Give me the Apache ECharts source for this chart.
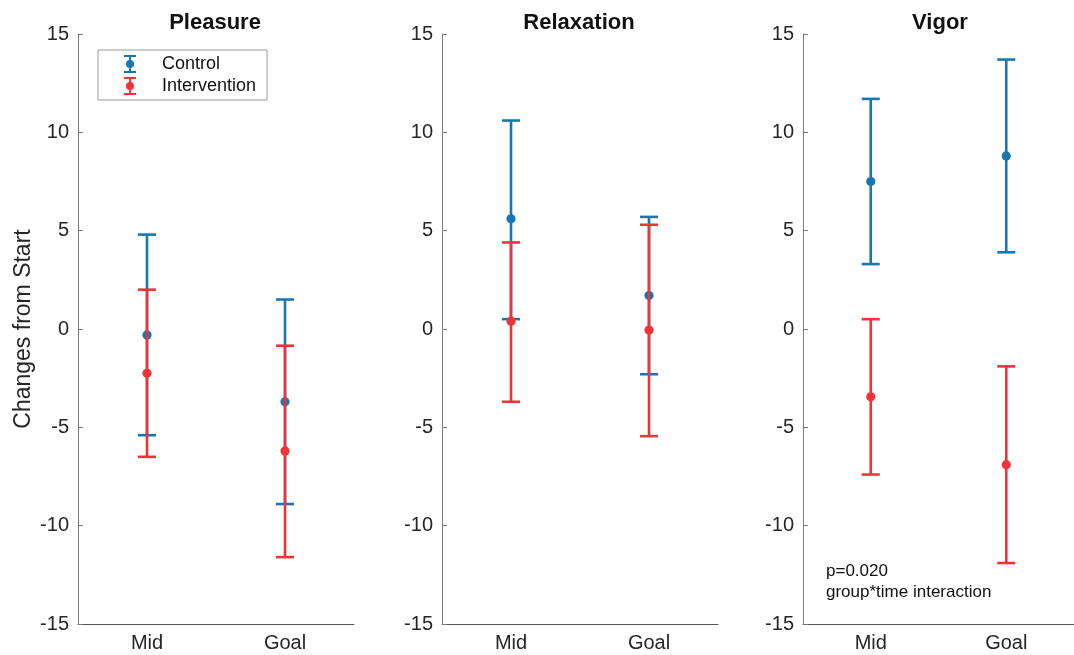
<!DOCTYPE html>
<html lang="en">
<head>
    <meta charset="UTF-8">
    <title>Changes from Start</title>
    <script src="https://cdn.jsdelivr.net/npm/echarts@6/dist/echarts.min.js"></script>
</head>
<body style="margin: 0">
<div id="main" style="width: 1074px;height: 655px"></div>
</body>

<script>
    // categories and panels
    const timePoints = ['Mid', 'Goal'];
    const panels = ['Pleasure', 'Relaxation', 'Vigor'];
    const yTicks = [-15, -10, -5, 0, 5, 10, 15];

    // mean, lower, upper per panel (Mid, Goal)
    const controlMean = [[-0.3, -3.7], [5.6, 1.7], [7.5, 8.8]];
    const controlLow = [[-5.4, -8.9], [0.5, -2.3], [3.3, 3.9]];
    const controlHigh = [[4.8, 1.5], [10.6, 5.7], [11.7, 13.7]];

    const interMean = [[-2.25, -6.2], [0.4, -0.05], [-3.45, -6.9]];
    const interLow = [[-6.5, -11.6], [-3.7, -5.45], [-7.4, -11.9]];
    const interHigh = [[2.0, -0.85], [4.4, 5.3], [0.5, -1.9]];

    const blue = '#1677B3';
    const red = '#EE3339';
    const font = 'Liberation Sans, Arial, sans-serif';

    const gridLeft = [78, 442, 803];
    const gridWidth = 276;

    let chart = echarts.init(document.getElementById('main'));

    function errorBar(params, api) {
        const x = api.value(0);
        const mid = api.coord([x, api.value(1)]);
        const lo = api.coord([x, api.value(2)]);
        const hi = api.coord([x, api.value(3)]);
        const color = api.visual('color');
        const half = 9;
        const lineStyle = {stroke: color, lineWidth: 2.6};
        return {
            type: 'group',
            children: [
                {type: 'line', shape: {x1: lo[0], y1: lo[1], x2: hi[0], y2: hi[1]}, style: lineStyle},
                {type: 'line', shape: {x1: lo[0] - half, y1: lo[1], x2: lo[0] + half, y2: lo[1]}, style: lineStyle},
                {type: 'line', shape: {x1: hi[0] - half, y1: hi[1], x2: hi[0] + half, y2: hi[1]}, style: lineStyle},
                {type: 'circle', shape: {cx: mid[0], cy: mid[1], r: 4.6}, style: {fill: color}}
            ]
        };
    }

    function buildData(mean, low, high) {
        return timePoints.map((t, i) => [i, mean[i], low[i], high[i]]);
    }

    const grids = [], xAxes = [], yAxes = [], titles = [], series = [];

    panels.forEach((name, p) => {
        grids.push({left: gridLeft[p], width: gridWidth, top: 34, bottom: 31});
        titles.push({
            text: name,
            left: gridLeft[p] + gridWidth / 2 - 6,
            top: 7,
            textAlign: 'center',
            textStyle: {fontFamily: font, fontSize: 22, fontWeight: 'bold', color: '#111'}
        });
        xAxes.push({
            type: 'category',
            gridIndex: p,
            data: timePoints,
            boundaryGap: true,
            axisLine: {onZero: false, lineStyle: {color: '#555', width: 1}},
            axisTick: {inside: true, length: 5, alignWithLabel: true, lineStyle: {color: '#555'}},
            axisLabel: {fontFamily: font, fontSize: 20, color: '#262626', margin: 9}
        });
        yAxes.push({
            type: 'value',
            gridIndex: p,
            min: -15,
            max: 15,
            interval: 5,
            name: p === 0 ? 'Changes from Start' : '',
            nameLocation: 'middle',
            nameGap: 43,
            nameTextStyle: {fontFamily: font, fontSize: 23, color: '#262626'},
            splitLine: {show: false},
            axisLine: {show: true, lineStyle: {color: '#7a7a7a', width: 1}},
            axisTick: {show: true, inside: true, length: 5, lineStyle: {color: '#7a7a7a'}},
            axisLabel: {
                fontFamily: font, fontSize: 20, color: '#262626', margin: 9,
                formatter: v => yTicks.includes(v) ? String(v) : ''
            }
        });
        series.push({
            name: 'Control',
            type: 'custom',
            xAxisIndex: p,
            yAxisIndex: p,
            itemStyle: {color: blue},
            renderItem: errorBar,
            encode: {x: 0, y: [1, 2, 3]},
            data: buildData(controlMean[p], controlLow[p], controlHigh[p]),
            z: 2
        });
        series.push({
            name: 'Intervention',
            type: 'custom',
            xAxisIndex: p,
            yAxisIndex: p,
            itemStyle: {color: red},
            renderItem: errorBar,
            encode: {x: 0, y: [1, 2, 3]},
            data: buildData(interMean[p], interLow[p], interHigh[p]),
            z: 3
        });
    });

    const legendIcon = 'path://M0,0H12V2H0Z M5,0H7V18H5Z M0,16H12V18H0Z M6,5A4,4 0 1 1 6,13A4,4 0 1 1 6,5Z';

    let option = {
        animation: false,
        backgroundColor: '#fff',
        title: titles,
        legend: {
            orient: 'vertical',
            left: 98,
            top: 50,
            data: [
                {name: 'Control', icon: legendIcon},
                {name: 'Intervention', icon: legendIcon}
            ],
            itemWidth: 12,
            itemHeight: 18,
            itemGap: 4,
            padding: [5, 11, 5, 26],
            borderColor: '#999',
            borderWidth: 1,
            textStyle: {fontFamily: font, fontSize: 18, color: '#111', padding: [0, 0, 0, 21]}
        },
        grid: grids,
        xAxis: xAxes,
        yAxis: yAxes,
        series: series,
        graphic: [
            {
                type: 'text',
                left: 826,
                top: 561,
                style: {
                    text: 'p=0.020\ngroup*time interaction',
                    fontFamily: font,
                    fontSize: 17,
                    lineHeight: 21,
                    fill: '#111'
                }
            }
        ]
    };
    chart.setOption(option);
</script>

</html>
